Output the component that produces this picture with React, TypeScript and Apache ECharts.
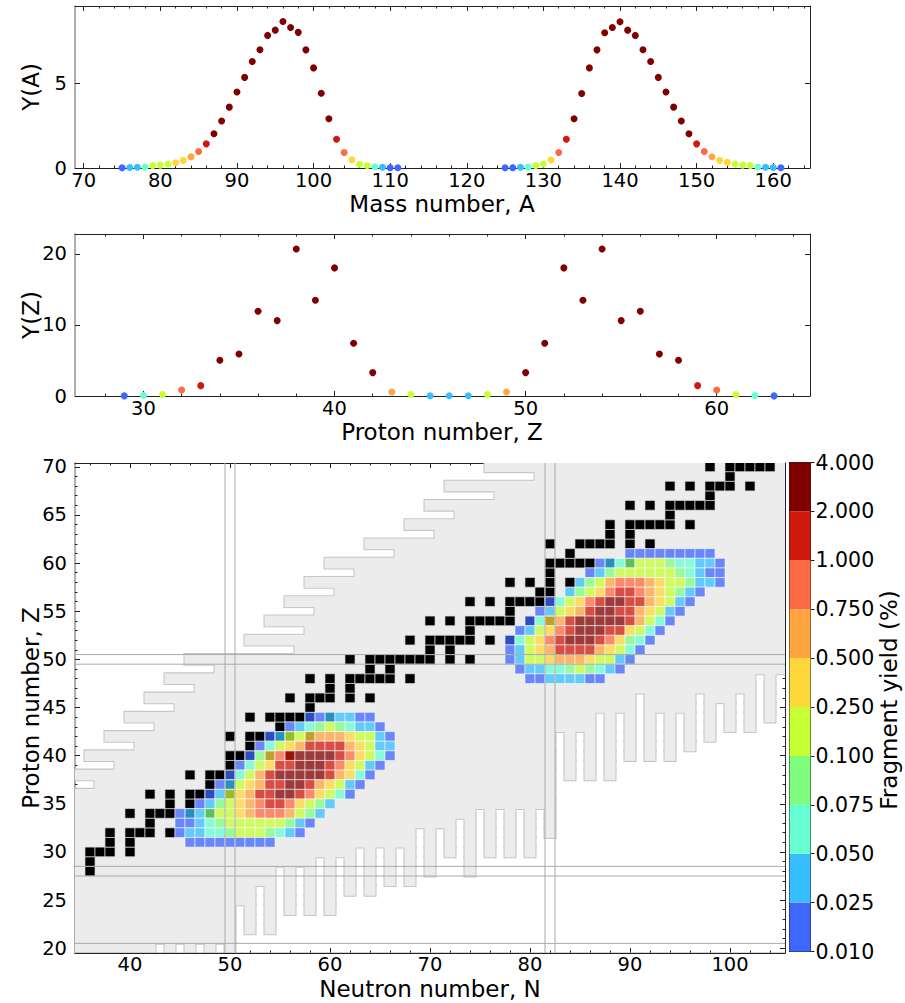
import React, { useEffect, useRef } from "react";
import * as echarts from "echarts";

const FONT = "DejaVu Sans";

// ---------- Panel 1: Y(A) ----------
const massNumbers = [
  75, 76, 77, 78, 79, 80, 81, 82, 83, 84, 85, 86, 87, 88, 89, 90, 91, 92, 93, 94, 95, 96, 97, 98, 99, 100,
  101, 102, 103, 104, 105, 106, 107, 108, 109, 110, 111,
  125, 126, 127, 128, 129, 130, 131, 132, 133, 134, 135, 136, 137, 138, 139, 140, 141, 142, 143, 144, 145,
  146, 147, 148, 149, 150, 151, 152, 153, 154, 155, 156, 157, 158, 159, 160, 161,
];
const yieldA = [
  0.015, 0.03, 0.04, 0.06, 0.15, 0.17, 0.23, 0.31, 0.45, 0.66, 0.97, 1.42, 2.02, 2.76, 3.58, 4.47, 5.33, 6.26,
  6.96, 7.8, 8.11, 8.62, 8.27, 7.98, 6.95, 5.89, 4.4, 2.9, 1.69, 0.91, 0.49, 0.22, 0.15, 0.07, 0.04, 0.02, 0.015,
  0.015, 0.02, 0.04, 0.06, 0.15, 0.24, 0.47, 0.91, 1.69, 2.9, 4.38, 5.89, 6.95, 7.96, 8.27, 8.6, 8.11, 7.8,
  6.96, 6.26, 5.33, 4.47, 3.58, 2.76, 2.02, 1.42, 0.97, 0.66, 0.45, 0.33, 0.23, 0.17, 0.15, 0.06, 0.04, 0.03, 0.015,
];
const massTicks = [70, 80, 90, 100, 110, 120, 130, 140, 150, 160];
const yieldATicks = [0, 5];

// ---------- Panel 2: Y(Z) ----------
const protonNumbers = [
  29, 30, 31, 32, 33, 34, 35, 36, 37, 38, 39, 40, 41, 42, 43, 44, 45, 46, 47, 48, 49, 50, 51, 52, 53, 54, 55,
  56, 57, 58, 59, 60, 61, 62, 63,
];
const yieldZ = [
  0.015, 0.06, 0.2, 0.85, 1.46, 5.02, 5.92, 11.92, 10.61, 20.7, 13.47, 18.03, 7.42, 3.29, 0.56, 0.2, 0.04, 0.04,
  0.04, 0.2, 0.56, 3.29, 7.42, 18.03, 13.47, 20.7, 10.61, 11.92, 5.92, 5.02, 1.46, 0.85, 0.2, 0.06, 0.015,
];
const protonTicks = [30, 40, 50, 60];
const yieldZTicks = [0, 10, 20];

// ---------- Panel 3: chart of nuclides ----------
const neutronTicks = [40, 50, 60, 70, 80, 90, 100];
const chartZTicks = [20, 25, 30, 35, 40, 45, 50, 55, 60, 65, 70];
const yieldBounds = [0.01, 0.025, 0.05, 0.075, 0.1, 0.25, 0.5, 0.75, 1, 2, 4];
const boundLabels = ["0.010", "0.025", "0.050", "0.075", "0.100", "0.250", "0.500", "0.750", "1.000", "2.000", "4.000"];
const yieldColors = [
  "#3f66ff", "#36bfff", "#66ffd2", "#7dff7d", "#c6ff33", "#ffd73a", "#ffa43f", "#ff6a42", "#d0190e", "#800000",
];

// rows: [Z, first N, yields...]
const lightFragments: number[][] = [
  [44, 58, 0.015, 0.015, 0.035, 0.035, 0.035, 0.015, 0.015],
  [43, 56, 0.015, 0.035, 0.06, 0.085, 0.17, 0.085, 0.06, 0.035, 0.035, 0.015],
  [42, 54, 0.015, 0.035, 0.17, 0.17, 0.35, 0.6, 0.6, 0.6, 0.35, 0.17, 0.17, 0.035, 0.015],
  [41, 53, 0.015, 0.06, 0.17, 0.35, 0.6, 1.5, 1.5, 1.5, 1.5, 0.6, 0.35, 0.17, 0.035, 0.035],
  [40, 52, 0.015, 0.085, 0.35, 0.85, 1.5, 3, 3, 3, 3, 1.5, 0.85, 0.35, 0.17, 0.06, 0.015],
  [39, 51, 0.015, 0.06, 0.17, 0.35, 1.5, 1.5, 3, 3, 3, 1.5, 0.85, 0.35, 0.17, 0.035, 0.015],
  [38, 50, 0.015, 0.06, 0.17, 0.6, 1.5, 3, 3, 3, 3, 3, 1.5, 0.6, 0.35, 0.06, 0.015],
  [37, 49, 0.015, 0.035, 0.17, 0.35, 0.6, 1.5, 1.5, 3, 3, 1.5, 0.6, 0.35, 0.17, 0.035, 0.015],
  [36, 48, 0.015, 0.035, 0.17, 0.35, 0.6, 1.5, 1.5, 3, 3, 1.5, 0.85, 0.35, 0.17, 0.06, 0.015],
  [35, 47, 0.015, 0.035, 0.085, 0.17, 0.35, 0.6, 0.85, 1.5, 1.5, 0.85, 0.35, 0.17, 0.085, 0.035],
  [34, 45, 0.015, 0.035, 0.035, 0.085, 0.17, 0.17, 0.35, 0.6, 0.85, 0.85, 0.85, 0.6, 0.17, 0.085, 0.035],
  [33, 45, 0.015, 0.015, 0.035, 0.06, 0.085, 0.17, 0.17, 0.17, 0.17, 0.17, 0.17, 0.085, 0.035, 0.015],
  [32, 45, 0.015, 0.035, 0.035, 0.06, 0.06, 0.085, 0.17, 0.17, 0.17, 0.085, 0.06, 0.035, 0.015],
  [31, 46, 0.015, 0.015, 0.015, 0.015, 0.015, 0.015, 0.015, 0.015, 0.015],
];
const heavyFragments: number[][] = [
  [61, 90, 0.015, 0.015, 0.015, 0.015, 0.015, 0.015, 0.015, 0.015, 0.015],
  [60, 87, 0.015, 0.035, 0.06, 0.085, 0.17, 0.17, 0.17, 0.085, 0.06, 0.06, 0.035, 0.035, 0.015],
  [59, 86, 0.015, 0.035, 0.085, 0.17, 0.17, 0.17, 0.17, 0.17, 0.17, 0.085, 0.06, 0.035, 0.015, 0.015],
  [58, 85, 0.035, 0.085, 0.17, 0.6, 0.85, 0.85, 0.85, 0.6, 0.35, 0.17, 0.17, 0.085, 0.035, 0.035, 0.015],
  [57, 84, 0.035, 0.085, 0.17, 0.35, 0.85, 1.5, 1.5, 0.85, 0.6, 0.35, 0.17, 0.085, 0.035, 0.015],
  [56, 82, 0.015, 0.06, 0.17, 0.35, 0.85, 1.5, 3, 3, 1.5, 1.5, 0.6, 0.35, 0.17, 0.035, 0.015],
  [55, 81, 0.015, 0.035, 0.17, 0.35, 0.6, 1.5, 3, 3, 1.5, 1.5, 0.6, 0.35, 0.17, 0.035, 0.015],
  [54, 80, 0.015, 0.06, 0.35, 0.6, 1.5, 3, 3, 3, 3, 3, 1.5, 0.6, 0.17, 0.06, 0.015],
  [53, 79, 0.015, 0.035, 0.17, 0.35, 0.85, 1.5, 3, 3, 3, 1.5, 1.5, 0.35, 0.17, 0.06, 0.015],
  [52, 78, 0.015, 0.06, 0.17, 0.35, 0.85, 1.5, 3, 3, 3, 1.5, 0.85, 0.35, 0.085, 0.06, 0.015],
  [51, 78, 0.015, 0.035, 0.17, 0.35, 0.6, 1.5, 1.5, 1.5, 1.5, 0.6, 0.35, 0.17, 0.06, 0.015],
  [50, 78, 0.015, 0.035, 0.17, 0.17, 0.35, 0.6, 0.6, 0.6, 0.35, 0.17, 0.17, 0.035, 0.015],
  [49, 79, 0.015, 0.035, 0.035, 0.06, 0.06, 0.085, 0.17, 0.085, 0.06, 0.035, 0.015],
  [48, 80, 0.015, 0.015, 0.035, 0.035, 0.035, 0.035, 0.015, 0.015],
];
// stable / black cells: [Z, N...]
const blackCells: number[][] = [
  [28, 36], [29, 36], [30, 36, 37, 38, 40], [31, 38, 40], [32, 38, 40, 41, 42, 44], [33, 42],
  [34, 40, 42, 43, 44, 46, 48], [35, 44, 46], [36, 42, 44, 46, 47, 48, 50], [37, 48, 50], [38, 46, 48, 49, 50],
  [39, 50], [40, 50, 51, 52, 54, 56], [41, 52], [42, 50, 52, 53, 54, 55, 56, 58], [43, 55],
  [44, 52, 54, 55, 56, 57, 58, 60], [45, 58], [46, 56, 58, 59, 60, 62, 64], [47, 60, 62],
  [48, 58, 60, 62, 63, 64, 65, 66, 68], [49, 64, 66], [50, 62, 64, 65, 66, 67, 68, 69, 70, 72, 74], [51, 70, 72],
  [52, 68, 70, 71, 72, 73, 74, 76, 78], [53, 74], [54, 70, 72, 74, 75, 76, 77, 78, 80, 82], [55, 78],
  [56, 74, 76, 78, 79, 80, 81, 82], [57, 81, 82], [58, 78, 80, 82, 84], [59, 82],
  [60, 82, 83, 84, 85, 86, 88, 90], [61, 84], [62, 82, 85, 86, 87, 88, 90, 92], [63, 88, 90],
  [64, 88, 90, 91, 92, 93, 94, 96], [65, 94], [66, 90, 92, 94, 95, 96, 97, 98], [67, 98],
  [68, 94, 96, 98, 99, 100, 102], [69, 100], [70, 98, 100, 101, 102, 103, 104],
];
// lightest N known for Z = 20..70
const dripNMin = [
  30, 30, 30, 30, 30, 30, 30, 30, 30, 30, 30, 30, 30, 30, 30, 30, 30, 37, 35, 39, 36, 41, 38, 43, 40, 45, 42, 47,
  44, 49, 46, 57, 52, 58, 54, 59, 56, 61, 58, 63, 60, 67, 64, 71, 68, 73, 70, 77, 72, 81, 76,
];
// lowest Z known for N = 35..105
const dripZMin = [
  20, 20, 20, 20, 20, 20, 20, 20, 21, 20, 21, 20, 21, 20, 21, 20, 25, 22, 27, 22, 29, 24, 29, 24, 30, 24, 30, 26,
  31, 26, 31, 27, 31, 27, 33, 28, 33, 30, 34, 28, 35, 30, 35, 30, 35, 30, 35, 32, 43, 38, 43, 38, 45, 38, 45, 40,
  47, 40, 45, 40, 45, 41, 47, 42, 46, 43, 47, 43, 49, 44, 49,
];
const magicN = [50, 82];
const magicZ = [20, 28, 50];

// ---------- derived data ----------
const pointsA = massNumbers.map((a, i) => [a, yieldA[i]]);
const pointsZ = protonNumbers.map((z, i) => [z, yieldZ[i]]);
const fragCells: number[][] = [];
[...lightFragments, ...heavyFragments].forEach((row) => {
  const z = row[0];
  const n0 = row[1];
  row.slice(2).forEach((v, i) => fragCells.push([n0 + i, z, v]));
});
const stableCells: number[][] = [];
blackCells.forEach((row) => row.slice(1).forEach((n) => stableCells.push([n, row[0]])));
const grayRuns: number[][] = [];
for (let z = 20; z <= 70; z++) {
  let start: number | null = null;
  for (let n = 35; n <= 105; n++) {
    const g = n >= dripNMin[z - 20] && z >= dripZMin[n - 35];
    if (g && start === null) start = n;
    if (!g && start !== null) {
      grayRuns.push([start, n - 1, z]);
      start = null;
    }
  }
  if (start !== null) grayRuns.push([start, 105, z]);
}
const magicLines: number[][] = [];
magicN.forEach((n) => magicLines.push([0, n - 0.5], [0, n + 0.5]));
magicZ.forEach((z) => magicLines.push([1, z - 0.5], [1, z + 0.5]));
const pieces = yieldColors.map((c, i) =>
  i === yieldColors.length - 1
    ? { gte: yieldBounds[i], color: c }
    : { gte: yieldBounds[i], lt: yieldBounds[i + 1], color: c }
);
const colorbarCells = yieldColors.map((_, i) => [0, i]);

function steps(min: number, max: number, step: number) {
  const out: number[] = [];
  for (let v = Math.ceil(min / step) * step; v <= max + 1e-9; v += step) out.push(+v.toFixed(4));
  return out;
}

const xAxes: any[] = [];
const yAxes: any[] = [];
const TICK = { color: "#222", width: 1 };

function axis(
  pos: string,
  grid: number,
  min: number,
  max: number,
  ticks: number[],
  len: number,
  label: any,
  line: any
) {
  return {
    type: "value",
    gridIndex: grid,
    min,
    max,
    position: pos,
    axisLine: line ? { show: true, onZero: false, lineStyle: line } : { show: false, onZero: false },
    axisTick: ticks.length ? { show: true, inside: true, length: len, customValues: ticks, lineStyle: TICK } : { show: false },
    axisLabel: label
      ? { show: true, customValues: ticks, fontFamily: FONT, color: "#000", ...label }
      : { show: false },
    splitLine: { show: false },
    minorTick: { show: false },
  };
}

function frame(
  grid: number,
  xr: number[],
  xMajor: number[],
  xMinor: number[],
  yr: number[],
  yMajor: number[],
  yMinor: number[],
  xLabel: any,
  yLabel: any
) {
  const dark = { color: "#222", width: 1 };
  const leftLine = { color: "#9a9a9a", width: 1.6 };
  const xi = xAxes.length;
  xAxes.push(axis("bottom", grid, xr[0], xr[1], xMajor, 5, xLabel, dark));
  xAxes.push(axis("bottom", grid, xr[0], xr[1], xMinor, 2.5, null, null));
  xAxes.push(axis("top", grid, xr[0], xr[1], xMajor, 5, null, dark));
  xAxes.push(axis("top", grid, xr[0], xr[1], xMinor, 2.5, null, null));
  const yi = yAxes.length;
  yAxes.push(axis("left", grid, yr[0], yr[1], yMajor, 5, yLabel, leftLine));
  yAxes.push(axis("left", grid, yr[0], yr[1], yMinor, 2.5, null, null));
  yAxes.push(axis("right", grid, yr[0], yr[1], yMajor, 5, null, dark));
  yAxes.push(axis("right", grid, yr[0], yr[1], yMinor, 2.5, null, null));
  return [xi, yi];
}

const tickFont = 19.5;
const A_RANGE = [68.86, 164.8];
const YA_RANGE = [0, 9.53];
const Z_RANGE = [26.42, 64.88];
const YZ_RANGE = [0, 22.8];
const N_RANGE = [34.5, 105.5];
const CZ_RANGE = [19.5, 70.4];

const [ax1, ay1] = frame(0, A_RANGE, massTicks, steps(A_RANGE[0], A_RANGE[1], 2), YA_RANGE, yieldATicks, [],
  { fontSize: tickFont, margin: 2 }, { fontSize: tickFont, margin: 8 });
const [ax2, ay2] = frame(1, Z_RANGE, protonTicks, steps(Z_RANGE[0], Z_RANGE[1], 2), YZ_RANGE, yieldZTicks, [],
  { fontSize: tickFont, margin: 2 }, { fontSize: tickFont, margin: 8 });
const [ax3, ay3] = frame(2, N_RANGE, neutronTicks, steps(N_RANGE[0], N_RANGE[1], 2), CZ_RANGE, chartZTicks,
  steps(CZ_RANGE[0], CZ_RANGE[1], 1), { fontSize: tickFont, margin: 1 }, { fontSize: tickFont, margin: 8 });

// colorbar axes
const cbX = xAxes.length;
const cbFrame = { color: "#222", width: 1 };
xAxes.push(axis("bottom", 3, 0, 1, [], 0, null, cbFrame));
xAxes.push(axis("top", 3, 0, 1, [], 0, null, cbFrame));
const cbY = yAxes.length;
yAxes.push({
  type: "value",
  gridIndex: 3,
  min: 0,
  max: 10,
  position: "right",
  axisLine: { show: true, onZero: false, lineStyle: cbFrame },
  axisTick: { show: true, inside: false, length: 4, customValues: boundLabels.map((_, i) => i), lineStyle: TICK },
  axisLabel: {
    show: true,
    customValues: boundLabels.map((_, i) => i),
    formatter: (v: number) => boundLabels[Math.round(v)],
    fontFamily: FONT,
    fontSize: 20.5,
    color: "#000",
    margin: 5,
  },
  splitLine: { show: false },
});
yAxes.push(axis("left", 3, 0, 10, [], 0, null, cbFrame));

function cellRect(api: any, n0: number, n1: number, z: number, grow = 0) {
  const a = api.coord([n0 - 0.5, z + 0.5]);
  const b = api.coord([n1 + 0.5, z - 0.5]);
  return { x: a[0] - grow, y: a[1] - grow, width: b[0] - a[0] + 2 * grow, height: b[1] - a[1] + 2 * grow };
}

function titleText(text: string, x: number, y: number, vertical: boolean, size = 23) {
  return {
    type: "text",
    x,
    y,
    rotation: vertical ? Math.PI / 2 : 0,
    style: { text, fontFamily: FONT, fontSize: size, fill: "#000", align: "center", verticalAlign: "middle" },
  };
}

export default function App() {
  const ref = useRef<HTMLDivElement>(null);
  useEffect(() => {
    if (!ref.current) return;
    const chart = echarts.init(ref.current, undefined, { renderer: "svg" });
    const option: any = {
      animation: false,
      backgroundColor: "#ffffff",
      textStyle: { fontFamily: FONT },
      grid: [
        { left: 75, top: 6, width: 735, height: 162 },
        { left: 75, top: 234, width: 735, height: 162 },
        { left: 75, top: 463, width: 710, height: 490 },
        { left: 789.5, top: 462.5, width: 21, height: 489 },
      ],
      xAxis: xAxes,
      yAxis: yAxes,
      visualMap: [
        { type: "piecewise", show: false, seriesIndex: [0, 1], dimension: 1, pieces, outOfRange: { color: "#999" } },
        { type: "piecewise", show: false, seriesIndex: [5], dimension: 2, pieces, outOfRange: { color: "#999" } },
      ],
      series: [
        {
          type: "scatter",
          xAxisIndex: ax1,
          yAxisIndex: ay1,
          data: pointsA,
          symbolSize: 7,
          itemStyle: { opacity: 1 },
        },
        {
          type: "scatter",
          xAxisIndex: ax2,
          yAxisIndex: ay2,
          data: pointsZ,
          symbolSize: 7,
          itemStyle: { opacity: 1 },
        },
        {
          type: "custom",
          xAxisIndex: ax3,
          yAxisIndex: ay3,
          clip: true,
          data: grayRuns,
          encode: { x: [0, 1], y: 2 },
          renderItem: (p: any, api: any) => ({
            type: "rect",
            shape: cellRect(api, api.value(0), api.value(1), api.value(2)),
            style: { fill: "none", stroke: "#c6c6c6", lineWidth: 3 },
          }),
        },
        {
          type: "custom",
          xAxisIndex: ax3,
          yAxisIndex: ay3,
          clip: true,
          data: grayRuns,
          encode: { x: [0, 1], y: 2 },
          renderItem: (p: any, api: any) => ({
            type: "rect",
            shape: cellRect(api, api.value(0), api.value(1), api.value(2), 0.45),
            style: { fill: "#ececec", stroke: "none" },
          }),
        },
        {
          type: "custom",
          xAxisIndex: ax3,
          yAxisIndex: ay3,
          clip: true,
          data: stableCells,
          encode: { x: 0, y: 1 },
          renderItem: (p: any, api: any) => ({
            type: "rect",
            shape: cellRect(api, api.value(0), api.value(0), api.value(1)),
            style: { fill: "#000", stroke: "#d4d4d4", lineWidth: 0.7 },
          }),
        },
        {
          type: "custom",
          xAxisIndex: ax3,
          yAxisIndex: ay3,
          clip: true,
          data: fragCells,
          encode: { x: 0, y: 1 },
          renderItem: (p: any, api: any) => ({
            type: "rect",
            shape: cellRect(api, api.value(0), api.value(0), api.value(1)),
            style: { fill: api.visual("color"), stroke: "#ffffff", lineWidth: 0.7, opacity: 0.75 },
          }),
        },
        {
          type: "custom",
          xAxisIndex: ax3,
          yAxisIndex: ay3,
          clip: true,
          data: magicLines,
          renderItem: (p: any, api: any) => {
            const cs = p.coordSys;
            const kind = api.value(0);
            const v = api.value(1);
            if (kind === 0) {
              const x = api.coord([v, 40])[0];
              return {
                type: "line",
                shape: { x1: x, y1: cs.y, x2: x, y2: cs.y + cs.height },
                style: { stroke: "#aaaaaa", lineWidth: 1 },
              };
            }
            const y = api.coord([60, v])[1];
            return {
              type: "line",
              shape: { x1: cs.x, y1: y, x2: cs.x + cs.width, y2: y },
              style: { stroke: "#aaaaaa", lineWidth: 1 },
            };
          },
        },
        {
          type: "custom",
          xAxisIndex: cbX,
          yAxisIndex: cbY,
          data: colorbarCells,
          renderItem: (p: any, api: any) => {
            const i = api.value(1);
            const a = api.coord([0, i + 1]);
            const b = api.coord([1, i]);
            return {
              type: "rect",
              shape: { x: a[0], y: a[1], width: b[0] - a[0], height: b[1] - a[1] },
              style: { fill: yieldColors[i], stroke: "none" },
            };
          },
        },
      ],
      graphic: [
        titleText("Y(A)", 31, 87, true),
        titleText("Mass number, A", 442, 204, false),
        titleText("Y(Z)", 31, 315, true),
        titleText("Proton number, Z", 442, 432, false),
        titleText("Proton number, Z", 31, 708, true),
        titleText("Neutron number, N", 430, 989, false),
        titleText("Fragment yield (%)", 889, 700, true),
      ],
    };
    chart.setOption(option);
    return () => chart.dispose();
  }, []);
  return <div ref={ref} style={{ position: "absolute", left: 0, top: 0, width: 905, height: 1003 }} />;
}
